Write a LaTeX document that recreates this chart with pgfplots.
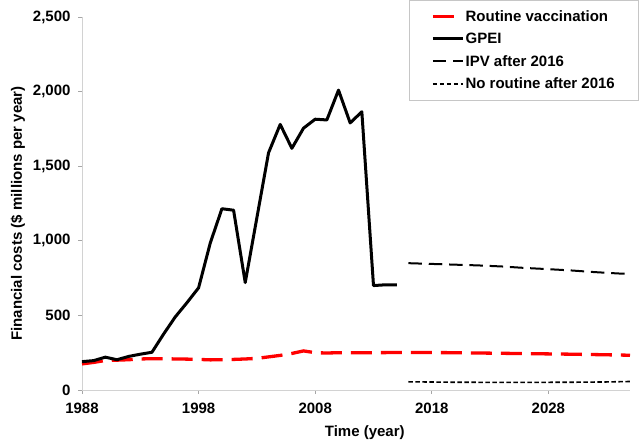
\documentclass[border=0pt]{standalone}
\usepackage{fontspec}
\setmainfont{Liberation Sans}
\usepackage{pgfplots}
\pgfplotsset{compat=1.18}
\newcommand{\ff}{\bfseries\fontsize{15}{17}\selectfont}
\begin{document}
\begin{tikzpicture}
\useasboundingbox (-82pt,-52pt) rectangle (557pt,390pt);
\begin{axis}[
  at={(0pt,0pt)}, anchor=south west,
  scale only axis, width=548pt, height=373pt,
  xmin=1988, xmax=2035, ymin=0, ymax=2500,
  axis x line=bottom, axis y line=left,
  axis line style={-, draw=gray!35, line width=0.8pt},
  xtick={1988,1998,2008,2018,2028},
  ytick={0,500,1000,1500,2000,2500},
  minor tick num=0,
  tick align=outside, major tick length=4pt,
  tick style={gray!70, line width=0.8pt},
  ticklabel style={font=\ff},
  /pgf/number format/assume math mode=true,
  xticklabel style={/pgf/number format/1000 sep={}, yshift=-5pt},
  yticklabel style={/pgf/number format/1000 sep={,}, xshift=-4pt},
  xlabel={Time (year)},
  ylabel={Financial costs (\$ millions per year)},
  every axis x label/.style={at={(axis description cs:0.516,-0.115)}, anchor=center, font=\ff},
  every axis y label/.style={at={(axis description cs:-0.117,0.473)}, rotate=90, anchor=center, font=\ff},
  legend style={at={(axis description cs:1.0146,1.0456)}, anchor=north east,
    draw=gray!45, fill=white, font=\ff, inner xsep=22pt, inner ysep=8pt,
    row sep=6.3pt, nodes={inner xsep=1pt, inner ysep=2pt}},
  legend cell align=left,
  legend image code/.code={\draw[#1] (0pt,0pt) -- (30pt,0pt);},
]
\addplot[red, line width=3.3pt, dash pattern=on 21pt off 9pt] coordinates {
(1988,175) (1989,185) (1990,198) (1991,200) (1992,203) (1993,208) (1994,210)
(1995,210) (1996,208) (1997,207) (1998,205) (1999,202) (2000,203) (2001,205)
(2002,208) (2003,212) (2004,222) (2005,232) (2006,245) (2007,262) (2008,250)
(2009,248) (2010,250) (2012,250) (2015,251) (2018,251) (2020,250) (2022,248)
(2025,245) (2028,242) (2030,240) (2033,236) (2035,233)};
\addlegendentry{Routine vaccination}
\addplot[black, line width=3pt, line join=round] coordinates {
(1988,190) (1989,197) (1990,220) (1991,203) (1992,225) (1993,240) (1994,253)
(1995,375) (1996,490) (1997,585) (1998,685) (1999,985) (2000,1215) (2001,1205)
(2002,720) (2003,1155) (2004,1590) (2005,1780) (2006,1620) (2007,1755)
(2008,1815) (2009,1810) (2010,2010) (2011,1790) (2012,1865) (2013,700)
(2014,705) (2015,705)};
\addlegendentry{GPEI}
\addplot[black, line width=2pt, dash pattern=on 13.5pt off 6.8pt] coordinates {
(2016,850) (2018,845) (2020,840) (2022,835) (2024,828) (2026,818) (2028,810)
(2030,801) (2032,790) (2034,781) (2035,778)};
\addlegendentry{IPV after 2016}
\addplot[black, line width=1.6pt, dash pattern=on 4.5pt off 2.5pt] coordinates {
(2016,55) (2020,52) (2025,51) (2030,52) (2033,54) (2035,57)};
\addlegendentry{No routine after 2016}
\end{axis}
\end{tikzpicture}
\end{document}
